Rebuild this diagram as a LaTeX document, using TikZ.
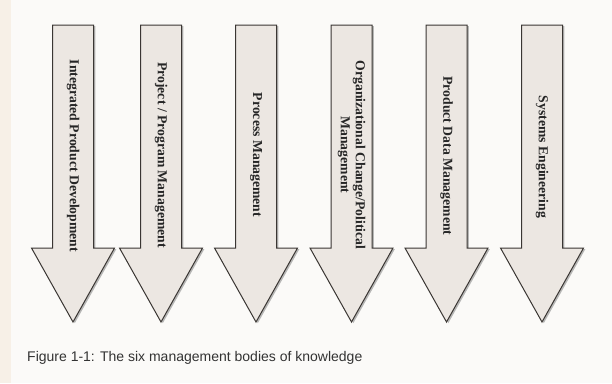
\documentclass[tikz,border=0pt]{standalone}
\usepackage{fontspec}
\setmainfont{Liberation Serif}
\setsansfont{Liberation Sans}
\usetikzlibrary{shadows}
\definecolor{paper}{HTML}{FBFAF8}
\definecolor{paperedge}{HTML}{F7F0E7}
\definecolor{arrowfill}{HTML}{ECE7E2}
\definecolor{arrowline}{HTML}{3A3633}
\tikzset{
  bodyarrow/.style={draw=arrowline, line width=1bp, fill=arrowfill, line join=miter,
    drop shadow={shadow xshift=1.8bp, shadow yshift=-1.2bp, fill=black!50, opacity=0.55}},
  bodylabel/.style={rotate=-90, font=\bfseries\fontsize{13.7bp}{15bp}\selectfont,
    text=black!85, align=center, inner sep=0pt}
}
\begin{document}
\begin{tikzpicture}[x=1bp,y=-1bp]
    \fill[paper] (0,0) rectangle (612,383);
    \fill[paperedge] (0,0) rectangle (11,383);
    \useasboundingbox (0,0) rectangle (612,383);

    \draw[bodyarrow, shift={(73,0)}] (-20.5,25) -- (20.5,25) -- (20.5,248) -- (41.5,248) -- (0,322) -- (-41.5,248) -- (-20.5,248) -- cycle;
    \draw[bodyarrow, shift={(161,0)}] (-20.5,25) -- (20.5,25) -- (20.5,248) -- (41.5,248) -- (0,322) -- (-41.5,248) -- (-20.5,248) -- cycle;
    \draw[bodyarrow, shift={(256,0)}] (-20.5,25) -- (20.5,25) -- (20.5,248) -- (41.5,248) -- (0,322) -- (-41.5,248) -- (-20.5,248) -- cycle;
    \draw[bodyarrow, shift={(351.5,0)}] (-20.5,25) -- (20.5,25) -- (20.5,248) -- (41.5,248) -- (0,322) -- (-41.5,248) -- (-20.5,248) -- cycle;
    \draw[bodyarrow, shift={(446.5,0)}] (-20.5,25) -- (20.5,25) -- (20.5,248) -- (41.5,248) -- (0,322) -- (-41.5,248) -- (-20.5,248) -- cycle;
    \draw[bodyarrow, shift={(542,0)}] (-20.5,25) -- (20.5,25) -- (20.5,248) -- (41.5,248) -- (0,322) -- (-41.5,248) -- (-20.5,248) -- cycle;

    \node[bodylabel] (ipd) at (73,156) {Integrated Product Development};
    \node[bodylabel] (ppm) at (161,155) {Project / Program Management};
    \node[bodylabel] (prm) at (256,155) {Process Management};
    \node[bodylabel] (ocp) at (351.5,155) {Organizational Change/Political\\Management};
    \node[bodylabel] (pdm) at (446.5,156) {Product Data Management};
    \node[bodylabel] (sye) at (542,157) {Systems Engineering};

    \node[anchor=base west, inner sep=0pt, text=black!80, font=\sffamily\fontsize{14bp}{16bp}\selectfont] (caption) at (27,361) {Figure 1-1: The six management bodies of knowledge};
\end{tikzpicture}
\end{document}
